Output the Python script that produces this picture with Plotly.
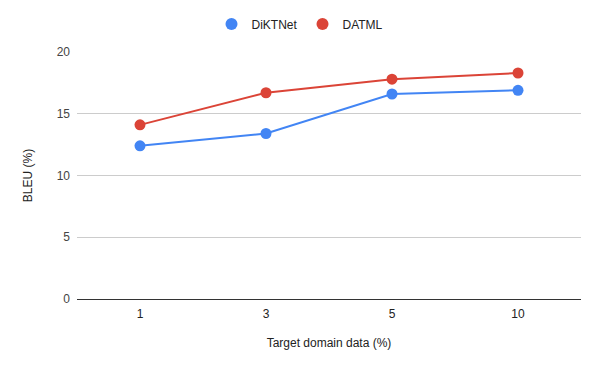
import plotly.graph_objects as go

categories = ["1", "3", "5", "10"]
diktnet = [12.4, 13.4, 16.6, 16.9]
datml = [14.1, 16.7, 17.8, 18.3]
y_ticks = [0, 5, 10, 15, 20]

font = "Liberation Sans, Arial, sans-serif"
series = [("DiKTNet", diktnet, "#4285F4"), ("DATML", datml, "#DB4437")]

fig = go.Figure()
for name, vals, col in series:
    fig.add_trace(go.Scatter(x=categories, y=vals, name=name, mode="lines",
                             line=dict(color=col, width=2), showlegend=False,
                             legendgroup=name, hoverinfo="skip"))
for name, vals, col in series:
    fig.add_trace(go.Scatter(x=categories, y=vals, name=name, mode="markers",
                             marker=dict(size=11, color=col), legendgroup=name))

fig.update_layout(
    width=600, height=371,
    margin=dict(l=77, r=19, t=52, b=72, autoexpand=False),
    plot_bgcolor="white", paper_bgcolor="white",
    font=dict(family=font, size=12, color="#222222"),
    legend=dict(orientation="h", xref="container", yref="container",
                x=0.5, xanchor="center", y=0.935, yanchor="middle",
                font=dict(size=12, color="#222222"), itemsizing="constant"),
    xaxis=dict(type="category", range=[-0.5, 3.5], showgrid=False,
               showline=False, zeroline=False, ticks="", ticklabelstandoff=6,
               tickfont=dict(size=12, color="#222222"),
               title=dict(text="Target domain data (%)", font=dict(size=12, color="#222222"), standoff=18)),
    yaxis=dict(range=[0, 20], tickvals=y_ticks, showgrid=True, gridcolor="#cccccc",
               gridwidth=1, zeroline=True, zerolinecolor="#333333", zerolinewidth=1,
               showline=False, ticks="", ticklabelstandoff=6,
               tickfont=dict(size=12, color="#444444"),
               title=dict(text="BLEU (%)", font=dict(size=12, color="#222222"), standoff=21)),
    showlegend=True,
)

fig.write_html("out.html")
